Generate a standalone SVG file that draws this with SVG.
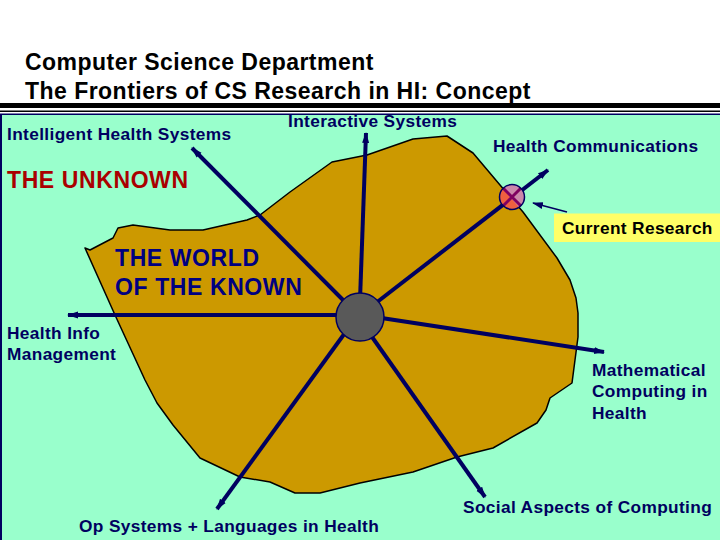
<svg xmlns="http://www.w3.org/2000/svg" width="720" height="540" viewBox="0 0 720 540">
<style>
text{font-family:"Liberation Sans",Arial,sans-serif;font-weight:700}
.t{font-size:23px;fill:#000;letter-spacing:.47px}
.l{font-size:17.3px;fill:#000060;letter-spacing:.36px}
.b{font-size:23px;letter-spacing:.6px}
.c{stroke:#000060;stroke-width:4;fill:none;marker-end:url(#a)}
</style>
<defs>
<marker id="a" markerUnits="userSpaceOnUse" markerWidth="12" markerHeight="10" refX="10" refY="5" orient="auto"><path d="M0 1.500L11 5L0 8.500z" fill="#000060"/></marker>
<path id="shape" d="M85 248L90 250L113 238L118 228L133 225L170 230L203 230L247 220L260 215L290 192L332 162L367 155L413 139L447 136L473 153L500 185L523 212L557 258L570 280L576 298L578 313L578 337L572 383L550 398L546 410L537 423L493 448L457 457L413 472L360 483L320 493L295 493L270 482L240 477L200 458L173 425L157 403L145 380L115 315Z"/>
<clipPath id="inside"><use href="#shape"/></clipPath>
</defs>
<rect width="720" height="540" fill="#fff"/>
<rect x="0" y="114" width="720" height="426" fill="#99ffcc"/>
<rect x="0" y="113.500" width="720" height="1.500" fill="#000060"/>
<rect x="0" y="114" width="2" height="426" fill="#000060"/>
<rect x="0" y="103" width="720" height="5" fill="#000"/>
<rect x="0" y="110.500" width="720" height="1.500" fill="#000"/>
<g id="blob"><use href="#shape" fill="#cc9900" stroke="#000" stroke-width="1.500" stroke-linejoin="round"/></g>
<g id="connectors">
<path class="c" d="M345 302L192 148"/>
<path class="c" d="M360 300L366 133"/>
<path class="c" d="M372 306L548 170"/>
<path class="c" d="M340 315L68 315"/>
<path class="c" d="M375 317L604 352"/>
<path class="c" d="M350 326L217 509"/>
<path class="c" d="M365 327L485 497"/>
<path d="M567 212L533 203" stroke="#000060" stroke-width="1.500" fill="none" marker-end="url(#a)"/>
</g>
<g id="hub"><circle cx="360" cy="317" r="24" fill="#595959" stroke="#000060" stroke-width="1.500"/></g>
<g id="current"><circle cx="512" cy="197" r="12.500" fill="#cc88aa"/><circle cx="512" cy="197" r="12.500" fill="#ee6040" clip-path="url(#inside)"/><path d="M503 188L521 206M521 188L503 206" stroke="#800060" stroke-width="3"/><circle cx="512" cy="197" r="12.500" fill="none" stroke="#000060" stroke-width="1.500"/></g>
<g id="title"><text class="t" x="25" y="70">Computer Science Department</text><text class="t" x="25" y="99">The Frontiers of CS Research in HI: Concept</text></g>
<g id="n1"><text class="l" x="7" y="140">Intelligent Health Systems</text></g>
<g id="n2"><text class="l" x="288" y="127">Interactive Systems</text></g>
<g id="n3"><text class="l" x="493" y="152">Health Communications</text></g>
<g id="unknown"><text class="b" x="7" y="188" fill="#aa0000">THE UNKNOWN</text></g>
<g id="cr"><rect x="554" y="213.500" width="166" height="28.500" fill="#ffff66"/><text class="l" x="562" y="234" style="fill:#000">Current Research</text></g>
<g id="known"><text class="b" x="115" y="266" fill="#000080">THE WORLD</text><text class="b" x="115" y="295" fill="#000080">OF THE KNOWN</text></g>
<g id="n4"><text class="l" x="7" y="339">Health Info</text><text class="l" x="7" y="360">Management</text></g>
<g id="n5"><text class="l" x="592" y="376">Mathematical</text><text class="l" x="592" y="397">Computing in</text><text class="l" x="592" y="419">Health</text></g>
<g id="n6"><text class="l" x="463" y="513">Social Aspects of Computing</text></g>
<g id="n7"><text class="l" x="79" y="532">Op Systems + Languages in Health</text></g>
</svg>
